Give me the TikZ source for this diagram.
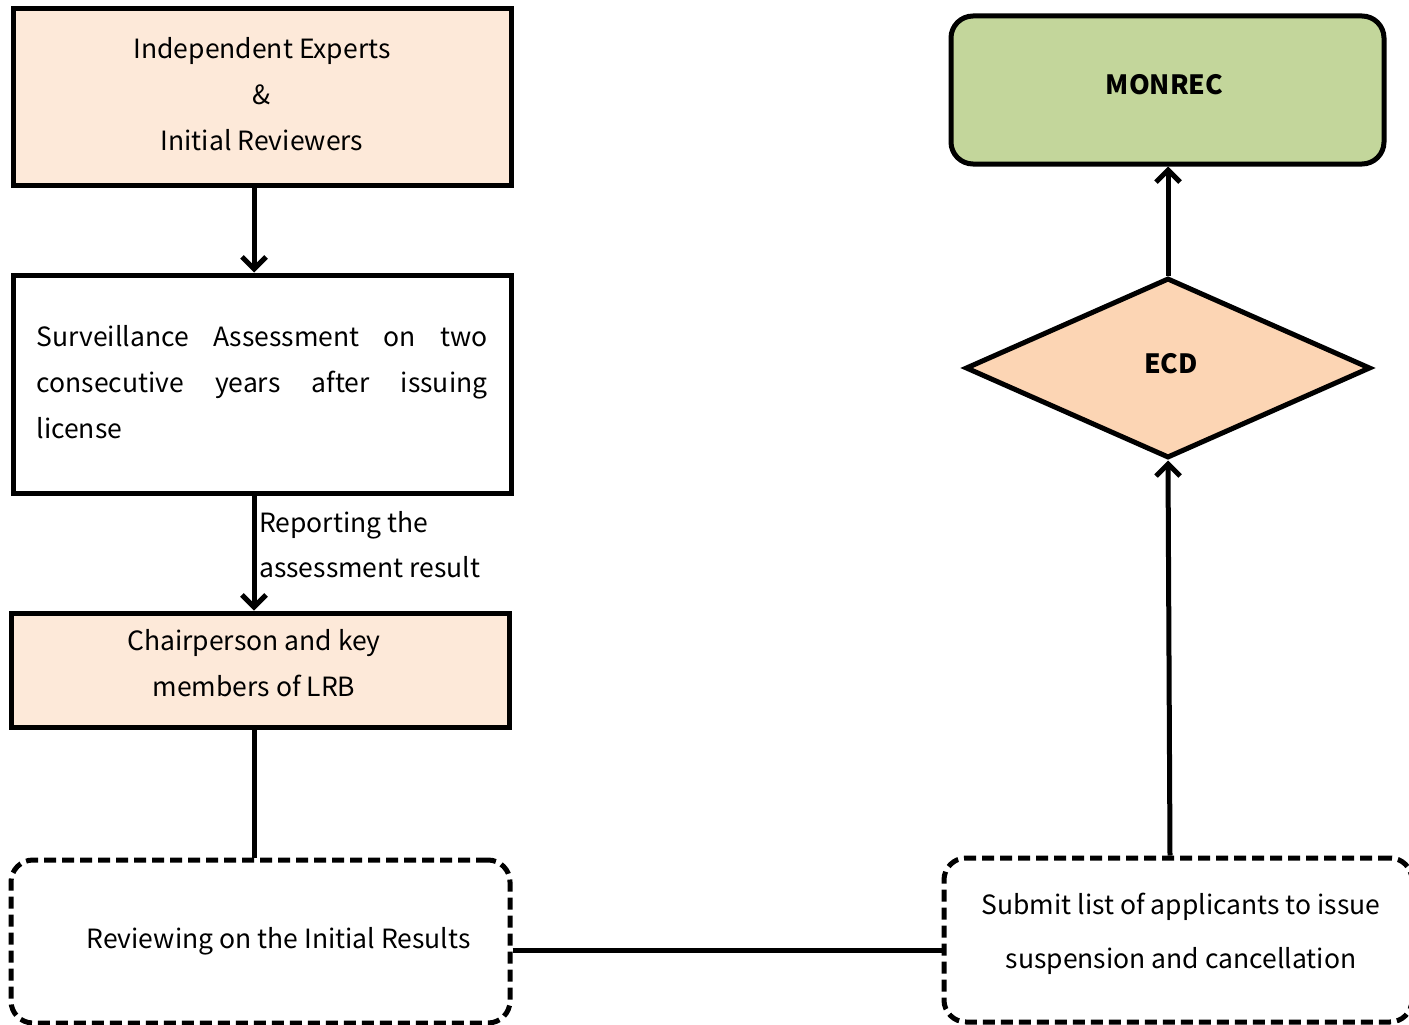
\documentclass[tikz,border=0pt]{standalone}
\usepackage{fontspec}
\setmainfont{Noto Sans CJK SC}
\usetikzlibrary{shapes.geometric,arrows.meta}
\definecolor{peachlight}{HTML}{FDE9D9}
\definecolor{peach}{HTML}{FCD5B4}
\definecolor{olivegreen}{HTML}{C3D69B}
\begin{document}
\begin{tikzpicture}[x=1pt,y=-1pt,
  every node/.style={font=\fontsize{26.5}{46}\selectfont, inner sep=0pt},
  box/.style={draw, line width=5pt, rectangle},
  dbox/.style={draw, line width=5pt, rectangle, rounded corners=22pt, dash pattern=on 12pt off 6pt},
  txt/.style={align=center},
  arr/.style={line width=5pt, -{Straight Barb[length=12pt,width=24pt,line width=5pt]}},
  conn/.style={line width=5pt}]
\useasboundingbox (0,0) rectangle (1409,1025);
% boxes
\node[box, fill=peachlight, minimum width=498pt, minimum height=176pt] (ie) at (262,97) {};
\node[box, fill=white, minimum width=498pt, minimum height=218pt] (sa) at (262,384) {};
\node[box, fill=peachlight, minimum width=498pt, minimum height=114pt] (cp) at (260,670) {};
\node[dbox, minimum width=499pt, minimum height=163pt] (rv) at (260.5,941.5) {};
\node[dbox, minimum width=468pt, minimum height=164pt] (sub) at (1178,940) {};
\node[draw, diamond, line width=5pt, fill=peach, minimum width=405pt, minimum height=180pt] (ecd) at (1168,368) {};
\node[draw, rectangle, line width=5pt, rounded corners=22pt, fill=olivegreen, minimum width=433pt, minimum height=148pt] (mon) at (1167.5,90) {};
% texts
\node[txt] (ietext) at (262,94) {Independent Experts\\\&\\Initial Reviewers};
\node (satext) at (262,382)
  {\parbox{451pt}{\fontsize{26.5}{46}\selectfont\spaceskip=0.3em plus 2em minus 0.1em Surveillance Assessment on two consecutive years after issuing license}};
\node[txt] (cptext) at (254,663) {Chairperson and key\\members of LRB};
\node[txt] (rvtext) at (278.5,941.5) {Reviewing on the Initial Results};
\node[txt, font=\fontsize{26.5}{54}\selectfont] (subtext) at (1181,934)
  {Submit list of applicants to issue\\suspension and cancellation};
\node[font=\fontsize{26.5}{46}\selectfont\bfseries] (ecdtext) at (1171,364) {ECD};
\node[font=\fontsize{26.5}{46}\selectfont\bfseries] (montext) at (1164.5,85) {MONREC};
% connectors
\draw[arr] (ie.south -| 254,0) -- (sa.north -| 254,0);
\draw[arr] (sa.south -| 254,0) -- (cp.north -| 254,0);
\node[anchor=west, align=left, font=\fontsize{26.5}{45}\selectfont] (lab) at (259,545) {Reporting the\\assessment result};
\draw[conn] (cp.south -| 254,0) -- (rv.north -| 254,0);
\draw[conn] (rv.east |- 0,950) -- (sub.west |- 0,950);
\draw[arr] (sub.north -| 1170,0) -- (ecd.south);
\draw[arr] (ecd.north) -- (mon.south -| ecd.north);
\end{tikzpicture}
\end{document}
